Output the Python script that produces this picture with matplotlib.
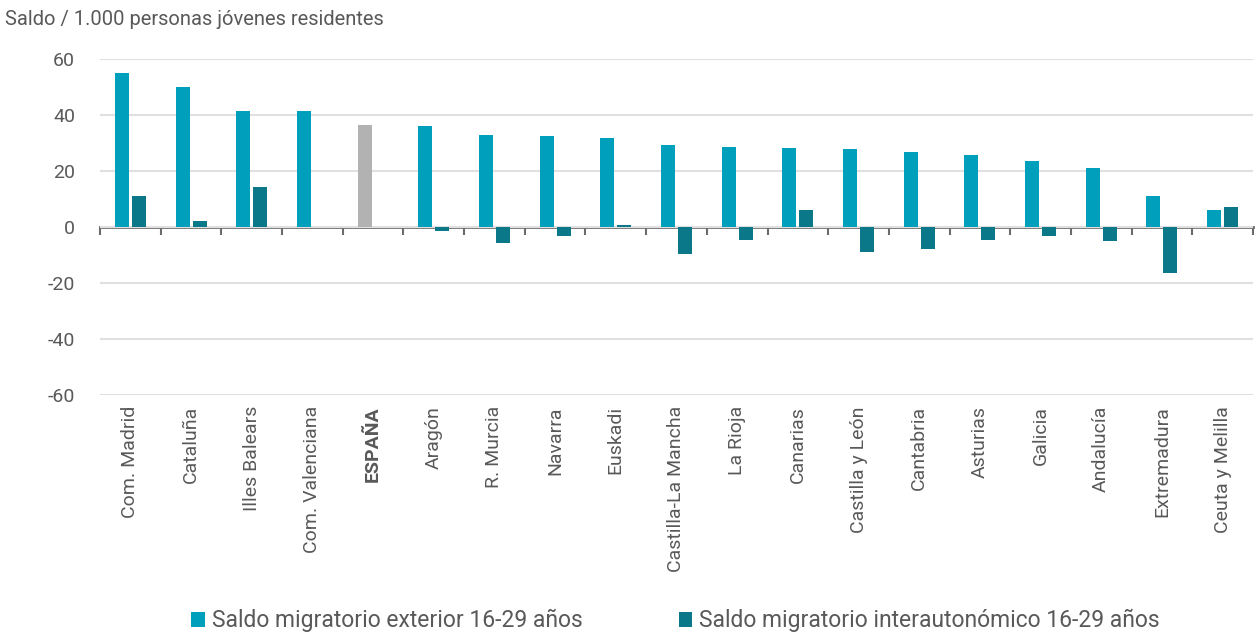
import matplotlib.pyplot as plt
import numpy as np

regiones = ["Com. Madrid", "Cataluña", "Illes Balears", "Com. Valenciana", "ESPAÑA",
            "Aragón", "R. Murcia", "Navarra", "Euskadi", "Castilla-La Mancha",
            "La Rioja", "Canarias", "Castilla y León", "Cantabria", "Asturias",
            "Galicia", "Andalucía", "Extremadura", "Ceuta y Melilla"]
exterior = [55.0, 50.0, 41.4, 41.4, 36.4, 36.0, 32.8, 32.4, 31.7, 29.2,
            28.5, 28.1, 27.8, 26.7, 25.6, 23.5, 21.0, 10.9, 5.9]
interauto = [10.9, 2.0, 14.4, 0.0, np.nan, -1.6, -5.9, -3.3, 0.8, -9.5,
             -4.5, 6.0, -8.8, -7.8, -4.7, -3.3, -5.1, -16.3, 7.2]

c_ext = "#00a0bd"
c_int = "#0a7889"
c_esp = "#b2b2b2"
txt = "#595959"

plt.rcParams['font.family'] = ['Roboto', 'DejaVu Sans']
plt.rcParams['axes.unicode_minus'] = False

fig = plt.figure(figsize=(12.58, 6.34), dpi=100)
ax = fig.add_axes([0.0795, 0.377, 0.9165, 0.53])

x = np.arange(len(regiones))
w = 0.23
cols = [c_esp if r == "ESPAÑA" else c_ext for r in regiones]
ax.bar(x - 0.14, exterior, w, color=cols, label="Saldo migratorio exterior 16-29 años", zorder=3)
ax.bar(x + 0.14, interauto, w, color=c_int, label="Saldo migratorio interautonómico 16-29 años", zorder=3)

ax.set_xlim(-0.5, len(regiones) - 0.5)
ax.set_ylim(-60, 60)
ax.set_yticks([-60, -40, -20, 0, 20, 40, 60])
ax.grid(axis='y', color="#e0e0e0", lw=1.5, zorder=0)
for s in ax.spines.values():
    s.set_visible(False)
ax.tick_params(axis='y', length=0, labelsize=14, labelcolor=txt, pad=18)
ax.set_xticks(x)
ax.set_xticklabels(regiones, rotation=90, fontsize=14, color=txt)
ax.tick_params(axis='x', length=0, pad=8)
for lab in ax.get_xticklabels():
    if lab.get_text() == "ESPAÑA":
        lab.set_fontweight("bold")

# zero line with tick marks between categories
sec = ax.secondary_xaxis(0.5)
sec.set_xticks(np.arange(-0.5, len(regiones), 1))
sec.set_xticklabels([])
sec.tick_params(length=6, width=1.5, color="#6b6b6b", direction='in')
sec.spines['bottom'].set_color("#6b6b6b")
sec.spines['bottom'].set_linewidth(2)
sec.spines['top'].set_color("#6b6b6b")
sec.spines['top'].set_linewidth(2)

fig.text(0.004, 0.985, "Saldo / 1.000 personas jóvenes residentes", fontsize=14.5,
         color=txt, va='top')

fig.legend(loc='lower center', ncol=2, frameon=False, fontsize=16.5, labelcolor=txt,
           handlelength=0.6, handleheight=0.6, handletextpad=0.3, columnspacing=4.2,
           bbox_to_anchor=(0.537, -0.03))

fig.savefig("out.png", dpi=100)
